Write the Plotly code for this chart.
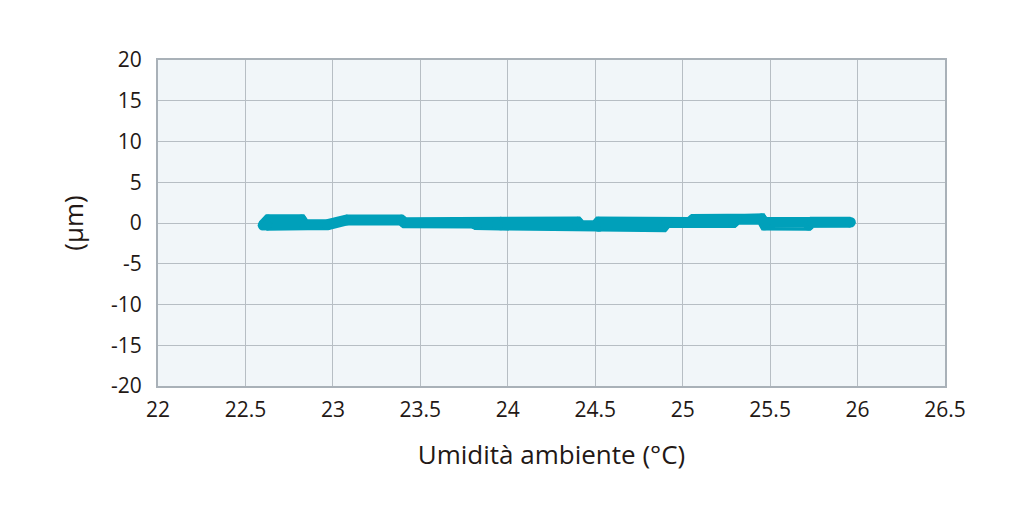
import plotly.graph_objects as go

# Temperature sweep (forward then return) and measured displacement (µm)
temperature = [22.60, 22.63, 22.82, 22.84, 22.97, 23.08, 23.39, 23.41, 23.80, 23.82,
               23.96, 24.40, 24.52, 24.89, 24.91, 25.29, 25.31, 25.45, 25.47, 25.72,
               25.74, 25.96,
               25.47, 25.45, 25.29, 25.06, 25.04, 24.91, 24.52, 24.50, 24.42, 24.40,
               23.96, 23.94, 23.82, 23.80, 23.41, 23.39, 23.08, 22.97, 22.62]
displacement = [-0.28, 0.40, 0.40, -0.22, -0.20, 0.37, 0.37, 0.02, 0.00, -0.20,
                -0.25, -0.30, -0.42, -0.45, 0.06, 0.07, 0.45, 0.52, -0.25, -0.28,
                0.10, 0.10,
                0.05, 0.50, 0.45, 0.42, 0.06, 0.08, 0.12, -0.35, -0.35, 0.12,
                0.12, -0.20, -0.20, 0.00, 0.02, 0.37, 0.37, -0.20, -0.28]

x_ticks = [22, 22.5, 23, 23.5, 24, 24.5, 25, 25.5, 26, 26.5]
y_ticks = [-20, -15, -10, -5, 0, 5, 10, 15, 20]

COLOR = "#00A0BA"
TEXT = "#231815"
GRID = "#b7bec4"
FONT = "Open Sans"

fig = go.Figure()
fig.add_trace(go.Scatter(
    x=temperature, y=displacement, mode="lines+markers",
    line=dict(color=COLOR, width=11),
    marker=dict(color=COLOR, size=10.5, line=dict(width=0)),
    showlegend=False, hoverinfo="skip",
))

fig.update_layout(
    width=1010, height=498,
    margin=dict(l=150, r=73, t=52, b=120),
    paper_bgcolor="white", plot_bgcolor="#f1f6f9",
    font=dict(family=FONT, size=21, color=TEXT),
)
fig.update_xaxes(
    range=[22, 26.5], tickvals=x_ticks, ticktext=[f"{v:g}" for v in x_ticks],
    showgrid=True, gridcolor=GRID, gridwidth=1, zeroline=False,
    showline=True, linecolor="#a9b1b8", linewidth=2, mirror=True,
    ticks="", ticklabelstandoff=4,
    title=dict(text="Umidità ambiente (°C)", font=dict(size=26, color=TEXT), standoff=24),
)
fig.update_yaxes(
    range=[-20, 20], tickvals=y_ticks, ticktext=[str(v) for v in y_ticks],
    showgrid=True, gridcolor=GRID, gridwidth=1, zeroline=False,
    showline=True, linecolor="#a9b1b8", linewidth=2, mirror=True,
    ticks="", ticklabelstandoff=10,
    title=dict(text="(µm)", font=dict(size=26, color=TEXT), standoff=20),
)

fig.write_html("out.html")
